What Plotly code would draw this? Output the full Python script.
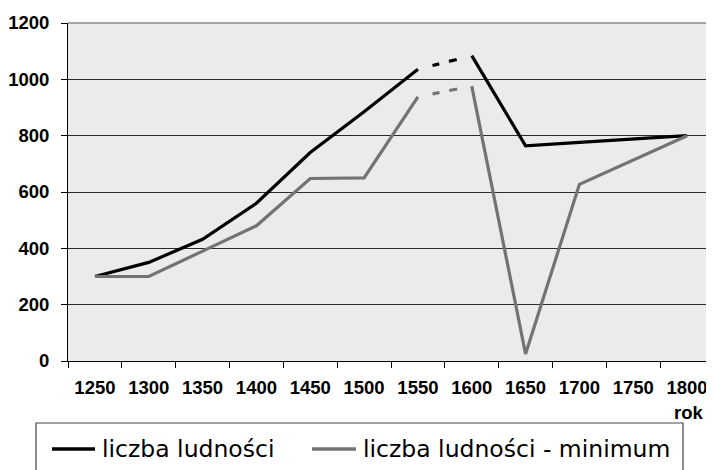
import plotly.graph_objects as go

years = ["1250", "1300", "1350", "1400", "1450", "1500", "1550",
         "1600", "1650", "1700", "1750", "1800"]
ludnosc = [300, 350, 432, 560, 740, 885, 1036, 1084, 764, 776, 788, 800]
ludnosc_min = [300, 300, 390, 480, 648, 650, 938, 976, 25, 627, 713, 800]
y_ticks = [0, 200, 400, 600, 800, 1000, 1200]
name_1 = "liczba ludności"
name_2 = "liczba ludności - minimum"
x_title = "rok"

# dashed (uncertain) section between 1550 and 1600
i_a, i_b = years.index("1550"), years.index("1600")

OFF = 8  # page body margin
W, H = 714 - OFF, 470 - OFF
L, T = 68 - OFF, 23 - OFF
PLOT_BOTTOM = 361 - OFF
R, B = 0, H - PLOT_BOTTOM
PW, PH = W - L - R, H - T - B


def px(x):
    return (x - OFF - L) / PW


def py(y):
    return (PLOT_BOTTOM - (y - OFF)) / PH


BLACK = "#000000"
GREY = "#737373"
LW = 3.2
DASH = "0px,15px,7px,10px,8px,40px"

fig = go.Figure()
for vals, col in ((ludnosc, BLACK), (ludnosc_min, GREY)):
    fig.add_trace(go.Scatter(x=years[:i_a + 1], y=vals[:i_a + 1], mode="lines",
                             line=dict(color=col, width=LW), showlegend=False,
                             hoverinfo="skip"))
    fig.add_trace(go.Scatter(x=years[i_a:i_b + 1], y=vals[i_a:i_b + 1], mode="lines",
                             line=dict(color=col, width=LW, dash=DASH),
                             showlegend=False, hoverinfo="skip"))
    fig.add_trace(go.Scatter(x=years[i_b:], y=vals[i_b:], mode="lines",
                             line=dict(color=col, width=LW), showlegend=False,
                             hoverinfo="skip"))

tick_font = dict(family="Liberation Sans, Arial, sans-serif", size=18.5,
                 color="black", weight="bold")
fig.update_layout(
    width=W, height=H,
    margin=dict(l=L, r=R, t=T, b=B, pad=0),
    paper_bgcolor="white",
    plot_bgcolor="#ebebeb",
    xaxis=dict(type="category", categoryorder="array", categoryarray=years,
               range=[-0.5, -0.5 + (PW + 2) / 54.0],
               showgrid=False, zeroline=False,
               showline=True, linecolor="black", linewidth=1,
               ticks="outside", tickson="boundaries", ticklen=6, tickcolor="black",
               tickfont=tick_font, ticklabelstandoff=10),
    yaxis=dict(range=[0, 1200], tickvals=y_ticks,
               showgrid=True, gridcolor="#2a2a2a", gridwidth=1,
               zeroline=False, showline=True, linecolor="black", linewidth=1,
               ticks="outside", ticklen=6, tickcolor="black",
               tickfont=tick_font, ticklabelstandoff=8),
    font=dict(family="Liberation Sans, Arial, sans-serif"),
)

# top border line (grey)
fig.add_shape(type="line", xref="paper", yref="paper", x0=0, x1=1, y0=1, y1=1,
              line=dict(color="#8a8a8a", width=1.5), layer="above")

# axis title
fig.add_annotation(text=x_title, xref="paper", yref="paper",
                   x=px(689), y=py(413), showarrow=False, xanchor="center",
                   yanchor="middle", font=tick_font)

# legend box (drawn to match the original layout)
fig.add_shape(type="rect", xref="paper", yref="paper",
              x0=px(36), x1=px(683), y0=py(423), y1=py(495),
              line=dict(color="#444444", width=1.2), fillcolor="rgba(0,0,0,0)")
leg_y = 449
leg_font = dict(family="DejaVu Sans, sans-serif", size=23.5, color="black")
for (x0, x1, tx, col, name) in ((52, 95, 101, BLACK, name_1),
                                (312, 356, 362, GREY, name_2)):
    fig.add_shape(type="line", xref="paper", yref="paper",
                  x0=px(x0), x1=px(x1), y0=py(leg_y), y1=py(leg_y),
                  line=dict(color=col, width=3.5))
    fig.add_annotation(text=name, xref="paper", yref="paper", x=px(tx), y=py(leg_y),
                       showarrow=False, xanchor="left", yanchor="middle",
                       font=leg_font, borderpad=0)

fig.write_html("out.html")
